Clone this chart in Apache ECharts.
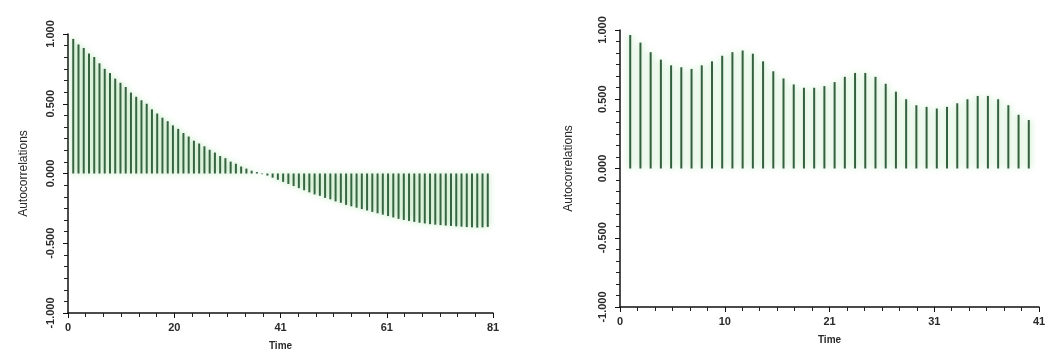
<!DOCTYPE html>
<html>
<head>
<meta charset="utf-8">
<script src="https://cdn.jsdelivr.net/npm/echarts@6/dist/echarts.min.js"></script>
<style>
  html, body { margin: 0; padding: 0; background: #fff; }
  #chart { width: 1050px; height: 361px; }
</style>
</head>
<body>
<div id="chart"></div>
<script>
// autocorrelations, lag 1..80 (left) and lag 1..40 (right)
var leftAcf = [
  0.965, 0.925, 0.900, 0.860, 0.835, 0.790, 0.750, 0.720, 0.680, 0.650,
  0.620, 0.580, 0.550, 0.525, 0.500, 0.460, 0.430, 0.400, 0.375, 0.345,
  0.320, 0.290, 0.265, 0.235, 0.215, 0.195, 0.170, 0.150, 0.125, 0.110,
  0.085, 0.070, 0.050, 0.035, 0.020, 0.010, -0.005, -0.015, -0.030, -0.045,
  -0.060, -0.075, -0.090, -0.105, -0.120, -0.135, -0.150, -0.160, -0.175, -0.185,
  -0.200, -0.210, -0.225, -0.235, -0.245, -0.255, -0.265, -0.275, -0.285, -0.295,
  -0.305, -0.315, -0.325, -0.333, -0.340, -0.347, -0.353, -0.358, -0.363, -0.367,
  -0.370, -0.373, -0.376, -0.379, -0.381, -0.384, -0.386, -0.388, -0.386, -0.383
];
var rightAcf = [
  0.964, 0.909, 0.840, 0.786, 0.745, 0.731, 0.719, 0.745, 0.774, 0.814,
  0.840, 0.852, 0.829, 0.774, 0.702, 0.650, 0.607, 0.583, 0.583, 0.595,
  0.624, 0.662, 0.690, 0.690, 0.662, 0.612, 0.555, 0.500, 0.457, 0.445,
  0.433, 0.445, 0.471, 0.500, 0.524, 0.524, 0.500, 0.457, 0.388, 0.350
];

// tick labels on the x axes (axis split in 4 equal parts, labels rounded)
var leftXLabels = ['0', '20', '41', '61', '81'];
var rightXLabels = ['0', '10', '21', '31', '41'];

function toPairs(arr) {
  var out = [];
  for (var i = 0; i < arr.length; i++) {
    out.push([i + 1, arr[i]]);
  }
  return out;
}

var chart = echarts.init(document.getElementById('chart'));

var labelFont = {
  fontFamily: 'Liberation Sans, Arial, sans-serif',
  fontSize: 11,
  fontWeight: 'bold',
  color: '#2a2a2a'
};

function xAxisFor(idx, maxVal, labels) {
  return {
    type: 'value',
    gridIndex: idx,
    min: 0,
    max: maxVal,
    interval: maxVal / 4,
    name: 'Time',
    nameLocation: 'middle',
    nameGap: 28,
    nameTextStyle: { fontFamily: 'Liberation Sans, Arial, sans-serif', fontSize: 10, color: '#2a2a2a', fontWeight: 'bold' },
    axisLine: { onZero: false, lineStyle: { color: '#111', width: 1.5 } },
    axisTick: { show: true, length: 5, lineStyle: { color: '#111' } },
    minorTick: { show: true, splitNumber: 6, length: 4, lineStyle: { color: '#222' } },
    splitLine: { show: false },
    axisLabel: Object.assign({
      margin: 9,
      formatter: function (v, i) { return labels[i]; }
    }, labelFont)
  };
}

function yAxisFor(idx, gap) {
  return {
    type: 'value',
    gridIndex: idx,
    min: -1,
    max: 1,
    interval: 0.5,
    name: 'Autocorrelations',
    nameLocation: 'middle',
    nameGap: gap,
    nameRotate: 90,
    nameTextStyle: { fontFamily: 'Liberation Sans, Arial, sans-serif', fontSize: 12, color: '#2a2a2a' },
    axisLine: { show: true, lineStyle: { color: '#111', width: 1.5 } },
    axisTick: { show: true, length: 5, lineStyle: { color: '#111' } },
    minorTick: { show: true, splitNumber: 6, length: 4, lineStyle: { color: '#222' } },
    splitLine: { show: false },
    axisLabel: Object.assign({
      rotate: 90,
      margin: 12,
      formatter: function (v) { return v.toFixed(3); }
    }, labelFont)
  };
}

function stems(idx, data) {
  return {
    type: 'bar',
    xAxisIndex: idx,
    yAxisIndex: idx,
    data: toPairs(data),
    barWidth: 2,
    itemStyle: {
      color: '#34603f',
      shadowColor: 'rgba(120, 210, 120, 0.75)',
      shadowBlur: 6
    },
    animation: false
  };
}

chart.setOption({
  backgroundColor: '#ffffff',
  animation: false,
  grid: [
    { left: 68, top: 34, width: 425, height: 279 },
    { left: 620, top: 30, width: 419, height: 277 }
  ],
  xAxis: [
    xAxisFor(0, 81, leftXLabels),
    xAxisFor(1, 41, rightXLabels)
  ],
  yAxis: [
    yAxisFor(0, 38),
    yAxisFor(1, 45)
  ],
  series: [
    stems(0, leftAcf),
    stems(1, rightAcf)
  ]
});
</script>
</body>
</html>
